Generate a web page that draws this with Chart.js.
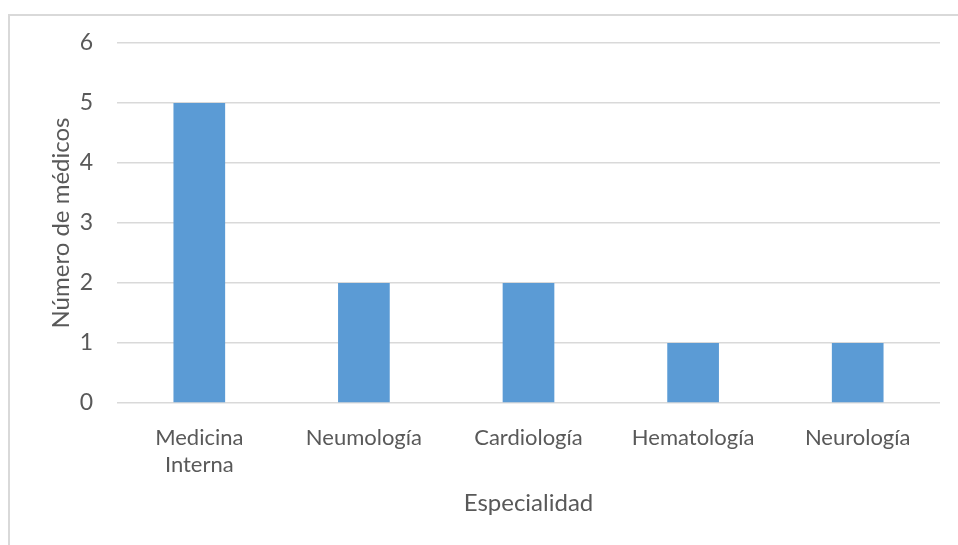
<!DOCTYPE html>
<html lang="es">
<head>
<meta charset="utf-8">
<title>Número de médicos por especialidad</title>
<script src="https://cdn.jsdelivr.net/npm/chart.js@4/dist/chart.umd.min.js"></script>
<style>
  html, body { margin: 0; padding: 0; background: #ffffff; overflow: hidden; }
  #wrap { position: relative; width: 958px; height: 545px; }
  #frame {
    position: absolute; left: 8px; top: 14px; width: 1000px; height: 600px;
    border-left: 2px solid #d9d9d9; border-top: 2px solid #d9d9d9;
    box-sizing: border-box; pointer-events: none;
  }
  canvas { position: absolute; left: 0; top: 0; }
</style>
</head>
<body>
<div id="wrap">
  <canvas id="chart" width="958" height="545"></canvas>
  <div id="frame"></div>
</div>
<script>
// Especialidades y número de médicos en cada una
const categories = [["Medicina", "Interna"], "Neumología", "Cardiología", "Hematología", "Neurología"];
const medicos = [5, 2, 2, 1, 1];
const yTickValues = [0, 1, 2, 3, 4, 5, 6];
const xTitle = "Especialidad";
const yTitle = "Número de médicos";

const textColor = "#595959";
const gridColor = "#d9d9d9";
const barColor = "#5b9bd5";
const fontFamily = "Lato, 'Open Sans', sans-serif";

new Chart(document.getElementById("chart"), {
  type: "bar",
  data: {
    labels: categories,
    datasets: [{
      label: yTitle,
      data: medicos,
      backgroundColor: barColor,
      borderWidth: 0,
      categoryPercentage: 1,
      barPercentage: 0.314
    }]
  },
  options: {
    responsive: false,
    animation: false,
    devicePixelRatio: 1,
    layout: { padding: { left: 0, right: 18, top: 43, bottom: 0 } },
    plugins: {
      legend: { display: false },
      tooltip: { enabled: false }
    },
    scales: {
      x: {
        grid: { display: false },
        border: { display: false },
        ticks: {
          color: textColor,
          padding: 14,
          maxRotation: 0,
          font: { family: fontFamily, size: 22, lineHeight: 1.2 }
        },
        title: {
          display: true,
          text: xTitle,
          color: textColor,
          padding: { top: 0, bottom: 27 },
          font: { family: fontFamily, size: 24, lineHeight: 1.2 }
        },
        afterFit(scale) { scale.height = 142; }
      },
      y: {
        min: yTickValues[0],
        max: yTickValues[yTickValues.length - 1],
        afterBuildTicks(scale) { scale.ticks = yTickValues.map(v => ({ value: v })); },
        grid: { color: gridColor, lineWidth: 1.5, drawTicks: false },
        border: { display: false },
        ticks: {
          color: textColor,
          padding: 24,
          font: { family: fontFamily, size: 23 }
        },
        title: {
          display: true,
          text: yTitle,
          color: textColor,
          padding: { top: 47, bottom: 0 },
          font: { family: fontFamily, size: 24, lineHeight: 1.2 }
        },
        afterFit(scale) { scale.width = 117; }
      }
    }
  }
});
</script>
</body>
</html>
